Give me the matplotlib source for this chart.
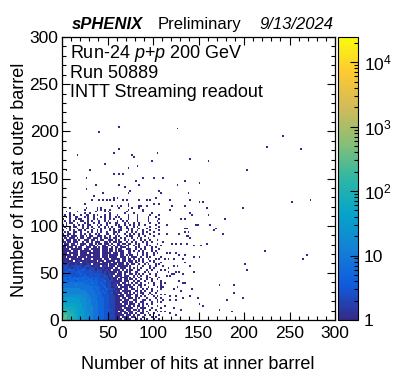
import numpy as np
import matplotlib
matplotlib.use('Agg')
import matplotlib.pyplot as plt
from matplotlib.colors import LinearSegmentedColormap, LogNorm
from matplotlib.ticker import MultipleLocator, LogLocator, FixedLocator, FixedFormatter, NullFormatter

plt.rcParams['font.family'] = ['Liberation Sans', 'DejaVu Sans']
plt.rcParams['mathtext.fontset'] = 'custom'
plt.rcParams['mathtext.rm'] = 'Liberation Sans'
plt.rcParams['mathtext.it'] = 'Liberation Sans:italic'

# ---------------- data ----------------
# Dense region: 2-unit bins, x 0..110 (55 columns), y 0..120 (60 rows).
# Rows listed from the top (y = 118-120) down to the bottom (y = 0-2); each char is a count code.
grid_rows = [
    "....a........a.....a.a.........a......a...a............",
    "............a......a.a.a..a.........a.......a..........",
    "..a.....a.........a....a.a.........a........a..........",
    "....a.......a..a..........a.......a....a.........a.....",
    ".a..a.a...a..aa..a.a...a..a." + "..a.....a....a......a....a.",
    "..a.a..aa...a.a..a...a.a..a..a.a" + "....a....a.....a...a...",
    "a...a..a.aa...a..a.a...a..a.a...a.." + ".a....a.....a.....a.",
    ".a..a.a...aa..a.a...a..a.a....a..a.a.." + "...a.....a....a..",
    "..a.aa..a...a.a..a..a...a.a..aa...a.a..a." + ".a.....a....a.",
    "a.a...a..a.a..aa...a.a..a....a.a..a..a.a..a" + "..a.....a...",
    ".a..a.aa...a..a.a...a..a.a.a...aa..a...a.a..." + "...a....a.",
    "..a.a...a..a.aa..a...a.a..a.a...a..aa.a...a..." + "a....a...",
    "a...a.a..aa.a...a..a.a....a.a..aa...a.a..a..a." + "..a....a.",
    ".a.a..aa..a...a.a..a.a..a...aa.a...a..a.a...a.a" + "...a....",
    "a..aa.a...a.a..a..a.a...aa..a.a...a..a.a..a.a.." + ".a....a.",
    "aa.a.aaa..aa.a.aa..aaa.a." + ".a..a.a...a.aa...a..a.." + "..a....",
    ".aa.aaa.a.aa..aa.aaa.a.aa.a.a" + "a..a.a...a..a.a...a." + "......",
    "a.aaa.aa.a..aaa.aa.a.aa..aaa.a.a" + "..a.a..a...a.a..a" + "...a..",
    "aa.aa.aaa..a.aa.a.aaa..aa.a.aa.aa." + ".a..a.a...a.a..a" + ".....",
    ".aaa.aa.a.aaa..aa.a.aa.aaa.a..aa.aa.a" + "a..a.a...a..." + "..a..",
    "a.aa.aaa..aa.a.aaa.a..aa.aa.a.aaa..aa." + ".a..a...a.a.." + "...a",
    "aa.aaa.a.aa..aaa.aa.a.aaa..a.aa.aaa.a." + "..a.a..a...a." + "a...",
    "aaaa.aaaaaa.aaa.aaaa" + "a.aaa.aa.a.aa..aaa." + ".a..a.a...a." + "..a.",
    "aaaaa.aaa.aaaaaa.aaaa.a" + "aa.aa.a.aaa..aa." + "a..a.a....a.a" + "...",
    "aaa.aaaaa.aaaa.aaaaaa.aaaa" + "a.aaa.aa..aa." + "..a..a.a...a." + "a..",
    "aaaaa.aaa.aaaaaa.aaaa.aaa.aaa" + "aa.aa.a.aa." + ".a..a.a...a." + "...",
    "aa.aaaaa.aaaa.aaaaaaa.aaa.aaaa." + ".aaa.a.aa" + "a..a..a.a..." + "..a",
    "aaaa.aaaaaa.aaaa.aaaaa.aaa.aaaa" + "a.aa.aa.a" + "..a.a..a...a" + ".a.",
    "aabaaa.aabaaaba" + "aaaa.aaa.aaaaa.aa" + ".aa.aaa.a" + ".a.a...a.a.." + "..",
    "abaabaaaba.aabaaaba" + "aa.aaaaa.aaaa" + "aa.a.aa.a" + "a..a.a...a.." + ".a",
    "baabaaabaabaaaba.aabaa" + "aaa.aaaa.aa" + "a.aa.aa." + ".a..a.a...a." + "a.",
    "bbcbabbbcbbabbcb" + "aabaa.aba" + ".aaa.aaaa" + "aa.a...a" + "..a...a..a." + "..",
    "bcbbbabbcbbbcbabbbab" + "aabaaa" + "aa.aa.aa" + "a..a.a.a" + ".a....a.a.." + "..",
    "cbccdccbcccdcbbcbbabbbaaba" + "a.aaaa.a" + ".a.aa..a" + "a...a..a...." + "a",
    "ccdcbccccdcccbcccbbcbbababa" + "aaa.aa.a" + "a.a..aa." + "..a.a....a." + ".",
    "cdccccbcccdcccbccccbcbbbaab" + "aa.aaa.a" + "..aa.a.a" + ".a...a..a.." + ".",
    "ccccdcccbcccdccccbcccbbcbaba" + ".aaaa.a" + "aa..a.a." + "a..a....a...",
    "ddeddcdddddedddccdcccbbcbaab" + "aaa.aaa" + "a.a.a..a" + "...a.a....a.",
    "dddcddddeddddcdddcdccccbbcaba" + "a.aa.aa" + ".aa.a..a" + "..a..a..a..",
    "ddeddddcdddddeddddddcccdbbbbaa" + "aaa.aa" + "a..a.aa." + ".a...a....a",
    "eeedeeeeeeeeddddedddcdccbcbaab" + "aa.aa.a" + ".a.aa.a" + "...a..a...a",
    "eeeeeeefeeeeeeedddddccdcbbcaba" + ".aa.aaa" + "a.a..aa." + "a....a...a",
    "eeeeeeeeeeeeeeeeededdccdbcbaab" + "a.aaaa." + "aa..a.a." + "..a....a.a",
    "ffffffffffeeeeeeedded" + "cccdbcbba" + "aaa.aa." + ".aa.a..a" + ".a..a....a",
    "fffffffffffffeeeeedddcdccbbbaba" + "a.aaaa" + "a..aa.a." + "a...a..a..",
    "gfffffffffffffeeeeddedcdcbbcaab" + "aa.aa.a" + ".a.a.aa" + "...a..a...",
    "ggggggggggfffffeeeedddccccbbaaa" + ".aa.aaa" + "a.aa..a" + "..a.a....a",
    "ggggggggggggfffeeeedddccccbbbaa" + "aaa.aaa" + "..aa.a." + "a....a.a..",
    "hhhhhhhhgggggfffeeeddddcccbbbaa" + "a.aa.aa" + "a.a.a.." + ".a....a..a",
    "hhhhhhhhhhgggfffeeeddddcccbbbaa" + "aa.aaa." + ".aa...a" + "a..a...a..",
    "hhhhhhhhhhgggfffeeeedddcccbbbaaa" + ".aaa.a" + "a.a..aa" + "....a..a.a",
    "iiiiiiihhhhgggffeeeedddcccbbbaaa" + "a.aa.a" + "aa..a.a" + ".a..a.....",
    "jjiiiiiihhhgggfffeeedddcccbbbaaa" + "aaa.aa" + ".a.aa.a" + "..a....a..",
    "jjjjjjiiihhgggfffeeedddcccbbbaaa" + "a.aaaa" + "a..a.aa" + "a...a....a",
    "kkkjjjjiihhhggfffeeedddccccbbaaa" + "aa.aaa" + ".aa.a.a" + "...a..a...",
    "kkkkkjjiihhhggfffeeedddcccbbbaa" + ".aaa.aa" + "a..aa.a" + ".a.....a.a",
    "kkkkkjjiihhhgggffeeedddcccbbbaa" + "aa.aa.a" + "a.a..aa" + "..a..a....",
    "lllkkkjjihhhgggffeeedddcccbbbaa" + "aaa.aaa" + ".a.aa.." + "a..a....a.",
    "lllkkkjjihhhgggffeeedddcccbbbaa" + "a.aaaa." + "aa.a..a" + "....a.a...",
    "mllkkkjjihhhggfffeeedddcccbbbaa" + "aa.aaa" + "a..aa.a." + ".a...a..a.",
]
level_counts = {'.': 0, 'a': 1, 'b': 2, 'c': 3, 'd': 5, 'e': 8, 'f': 14, 'g': 22,
                'h': 35, 'i': 50, 'j': 70, 'k': 130, 'l': 300, 'm': 2000}

# isolated single-count bins outside the dense region
outlier_x = [62, 41, 16, 63, 57, 77, 78, 46, 82, 72, 4, 30, 56, 62, 67, 27, 88, 80, 63, 68,
             36, 85, 26, 75, 73, 45, 34, 57, 61, 33, 41, 45, 48, 52, 57, 67, 71, 85, 92, 96,
             24, 55, 60, 65, 73, 72, 85, 87, 92,
             127, 243, 224, 263, 105, 140, 99, 160, 202, 101, 111, 134, 151, 126, 107, 108,
             138, 102, 140, 118, 151, 154, 101, 106, 121, 135, 158, 199, 252, 273, 118, 141,
             143, 161, 178, 131, 134, 115, 146, 148, 163, 134, 137, 168,
             166, 176, 222, 200, 203, 264, 268, 173, 189, 188, 198, 181, 173, 187,
             114, 128, 134, 138, 139, 140, 136, 111, 121, 125, 131, 136, 145, 152, 159, 114,
             119, 125, 128, 135, 144, 150, 113, 117, 122, 133, 135, 111, 116, 122, 127, 141,
             145, 113, 117, 121, 124, 128, 133, 115, 119, 123, 113, 128, 133, 135, 111, 122,
             126, 130, 143, 113, 119, 124, 133, 141, 111, 119, 125, 148, 113, 150, 155,
             118, 113, 125, 131, 122]
outlier_y = [204, 199, 175, 181, 176, 174, 172, 165, 162, 161, 158, 158, 155, 155, 155, 151, 151, 146, 143, 140,
             142, 142, 139, 136, 134, 134, 130, 128, 128, 127, 127, 127, 127, 127, 127, 126, 126, 126, 126, 126,
             122, 121, 121, 121, 122, 121, 121, 121, 121,
             203, 194, 182, 181, 177, 171, 169, 168, 159, 150, 151, 146, 145, 142, 137, 135,
             134, 129, 127, 126, 124, 124, 122, 122, 120, 120, 118, 118, 124, 127, 116, 112,
             111, 110, 107, 106, 107, 101, 100, 100, 100, 97, 97, 96,
             94, 91, 73, 58, 53, 64, 68, 37, 36, 28, 23, 21, 10, 8,
             90, 91, 92, 93, 89, 87, 88, 83, 80, 80, 80, 80, 78, 78, 81, 71,
             71, 70, 68, 69, 66, 67, 65, 64, 64, 64, 61, 57, 55, 57, 56, 56,
             51, 53, 51, 49, 50, 51, 48, 46, 47, 48, 39, 40, 38, 39, 34, 33,
             35, 31, 33, 27, 25, 25, 23, 25, 21, 20, 21, 22, 14, 16, 15,
             6, 9, 5, 11, 12]

x_ticks = [0, 50, 100, 150, 200, 250, 300]
y_ticks = [0, 50, 100, 150, 200, 250, 300]
cbar_ticks = [1, 10, 100, 1000, 10000]
cbar_labels = ['1', '10', r'$10^{2}$', r'$10^{3}$', r'$10^{4}$']

# ---------------- build histogram ----------------
edges = np.arange(0, 302, 2)
nb = len(edges) - 1
H = np.zeros((nb, nb))
for j, row in enumerate(grid_rows[::-1]):
    row = row.ljust(55, '.')[:55]
    for i, ch in enumerate(row):
        H[i, j] += level_counts[ch]
Ho, _, _ = np.histogram2d(outlier_x, outlier_y, bins=[edges, edges])
H += Ho
Hm = np.ma.masked_where(H <= 0, H)

stops = [0, .125, .25, .375, .5, .625, .75, .875, 1]
red = [0.2082, 0.0592, 0.0780, 0.0232, 0.1802, 0.5301, 0.8186, 0.9956, 0.9764]
green = [0.1664, 0.3599, 0.5041, 0.6419, 0.7178, 0.7492, 0.7328, 0.7862, 0.9832]
blue = [0.5293, 0.8684, 0.8385, 0.7914, 0.6425, 0.4662, 0.3499, 0.1968, 0.0539]
bird = LinearSegmentedColormap.from_list('bird', list(zip(stops, zip(red, green, blue))), N=255)

W, Hpx = 393, 381
fig = plt.figure(figsize=(W / 100, Hpx / 100), dpi=100)
ax = fig.add_axes([62 / W, 61 / Hpx, 273 / W, 283 / Hpx])
mesh = ax.pcolormesh(edges, edges, Hm.T, cmap=bird, norm=LogNorm(vmin=1, vmax=24500),
                     shading='flat', antialiased=False, linewidth=0)
ax.set_xlim(0, 300)
ax.set_ylim(0, 300)
ax.xaxis.set_major_locator(FixedLocator(x_ticks))
ax.yaxis.set_major_locator(FixedLocator(y_ticks))
ax.xaxis.set_minor_locator(MultipleLocator(10))
ax.yaxis.set_minor_locator(MultipleLocator(10))
ax.tick_params(which='both', direction='in', top=True, right=True, width=0.8, labelsize=12.5)
ax.tick_params(which='major', length=5.8)
ax.tick_params(which='minor', length=2.9)
ax.tick_params(axis='x', pad=4)
ax.tick_params(axis='y', pad=2.5)
for s in ax.spines.values():
    s.set_linewidth(0.9)

cax = fig.add_axes([338 / W, 61 / Hpx, 20 / W, 283 / Hpx])
cb = fig.colorbar(mesh, cax=cax)
cb.outline.set_linewidth(0.8)
cax.yaxis.set_major_locator(FixedLocator(cbar_ticks))
cax.yaxis.set_major_formatter(FixedFormatter(cbar_labels))
cax.yaxis.set_minor_locator(LogLocator(base=10, subs=np.arange(2, 10)))
cax.yaxis.set_minor_formatter(NullFormatter())
cax.tick_params(which='both', direction='in', right=True, left=False, width=0.8, labelsize=12.5, pad=4)
cax.tick_params(which='major', length=5.5)
cax.tick_params(which='minor', length=2.8)

# texts
fig.text(72 / W, 1 - 29 / Hpx, 'sPHENIX', fontsize=12, fontweight='bold', fontstyle='italic', va='baseline')
fig.text(158 / W, 1 - 29 / Hpx, 'Preliminary', fontsize=12, va='baseline')
fig.text(333 / W, 1 - 29 / Hpx, '9/13/2024', fontsize=12, fontstyle='italic', va='baseline', ha='right')
fig.text(70 / W, 1 - 58 / Hpx, r'Run-24 $\mathit{p}$+$\mathit{p}$ 200 GeV', fontsize=13, va='baseline')
fig.text(70 / W, 1 - 77.5 / Hpx, 'Run 50889', fontsize=13, va='baseline')
fig.text(70 / W, 1 - 97 / Hpx, 'INTT Streaming readout', fontsize=13, va='baseline')
fig.text(198 / W, 1 - 369 / Hpx, 'Number of hits at inner barrel', fontsize=13, va='baseline', ha='center')
fig.text(20 / W, 1 - 180 / Hpx, 'Number of hits at outer barrel', fontsize=13, va='center', ha='center',
         rotation=90)

fig.savefig('out.png', dpi=100)
